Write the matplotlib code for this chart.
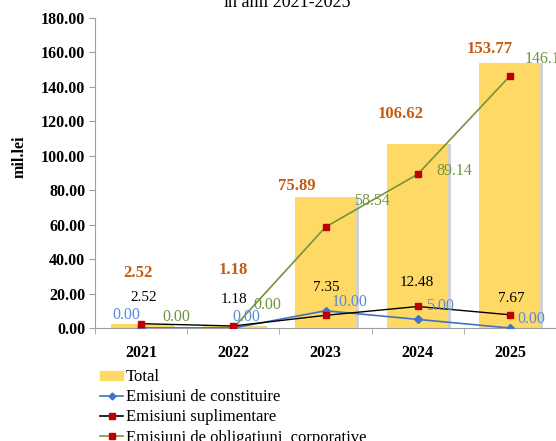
import numpy as np
import matplotlib
matplotlib.use("Agg")
import matplotlib.pyplot as plt
from matplotlib.patches import Patch
from matplotlib.lines import Line2D

plt.rcParams['font.family'] = ['Liberation Serif', 'DejaVu Serif']

years = ['2021', '2022', '2023', '2024', '2025']
total = [2.52, 1.18, 75.89, 106.62, 153.77]
constituire = [0.00, 0.00, 10.00, 5.00, 0.00]
suplimentare = [2.52, 1.18, 7.35, 12.48, 7.67]
corporative = [0.00, 0.00, 58.54, 89.14, 146.10]

# label offsets in pixels (dx, dy)
off_total = [(-3, 51), (0, 56), (-29, 11), (-17, 30), (-20, 14)]
off_supl = [(3, 26), (1, 26), (1, 28), (-1, 24), (1, 16)]
off_const = [(-15, 13), (13, 11), (24, 9), (22, 13), (21, 9)]
off_corp = [(35, 11), (34, 23), (46, 26), (37, 3), (37, 17)]

c_bar = '#FFD966'
c_total = '#C55A11'
c_blue = '#4472C4'
c_blue_txt = '#5B8BD9'
c_green = '#77933C'
c_green_txt = '#6E9440'
c_red = '#C00000'

fig = plt.figure(figsize=(5.56, 4.41), dpi=100)
ax = fig.add_axes([0.171, 0.2562, 0.829, 0.7041])

x = np.arange(len(years))
ax.bar(x + 0.03, total, width=0.66, color='#D2D2D2', zorder=1)
ax.bar(x, total, width=0.66, color=c_bar, zorder=2)

ax.plot(x, corporative, color=c_green, lw=1.2, marker='s', ms=5,
        mfc=c_red, mec=c_red, zorder=3)
ax.plot(x, constituire, color=c_blue, lw=1.2, marker='D', ms=4.5,
        mfc=c_blue, mec=c_blue, zorder=4)
ax.plot(x, suplimentare, color='black', lw=1.0, marker='s', ms=5,
        mfc=c_red, mec=c_red, zorder=5)

def put_labels(vals, offs, color, **kw):
    for i, (v, o) in enumerate(zip(vals, offs)):
        ax.annotate(f'{v:.2f}', xy=(i, v), xytext=o, textcoords='offset pixels',
                    ha='center', va='center', color=color, zorder=6, **kw)

put_labels(total, off_total, c_total, fontsize=12, fontweight='bold')
put_labels(suplimentare, off_supl, 'black', fontsize=11)
put_labels(constituire, off_const, c_blue_txt, fontsize=11.5)
put_labels(corporative, off_corp, c_green_txt, fontsize=11.5)

ax.set_xlim(-0.5, len(years) - 0.5)
ax.set_ylim(0, 180)
ax.set_yticks(np.arange(0, 181, 20))
ax.set_yticklabels([f'{v:.2f}' for v in np.arange(0, 181, 20)],
                   fontsize=11.5, fontweight='bold')
ax.set_xticks(x)
ax.set_xticklabels(years, fontsize=11.5, fontweight='bold')
ax.set_xticks(np.arange(-0.5, len(years), 1), minor=True)
ax.tick_params(axis='x', which='major', length=0, pad=12)
ax.tick_params(axis='x', which='minor', length=4, color='#A0A0A0')
ax.tick_params(axis='y', length=4, color='#A0A0A0', pad=3)

for s in ['top', 'right']:
    ax.spines[s].set_visible(False)
for s in ['left', 'bottom']:
    ax.spines[s].set_color('#A0A0A0')

fig.text(20 / 556, 1 - 157 / 441, 'mil.lei', rotation=90, ha='center',
         va='center', fontsize=11.5, fontweight='bold')
fig.text(287 / 556, 1 - 7 / 441, 'în anii 2021-2025', ha='center',
         va='baseline', fontsize=13)

handles = [
    Patch(color=c_bar),
    Line2D([], [], color=c_blue, marker='D', ms=3.5, mfc=c_blue, lw=1.2),
    Line2D([], [], color='black', marker='s', ms=4, mfc=c_red, mec=c_red, lw=1.2),
    Line2D([], [], color=c_green, marker='s', ms=4, mfc=c_red, mec=c_red, lw=1.2),
]
labels = ['Total', 'Emisiuni de constituire', 'Emisiuni suplimentare',
          'Emisiuni de obligatiuni  corporative']
fig.legend(handles, labels, loc='upper left', bbox_to_anchor=(100 / 556, 1 - 369 / 441),
           frameon=False, fontsize=12, handlelength=1.4, handletextpad=0.15,
           labelspacing=0.25, borderpad=0, borderaxespad=0, handleheight=0.45)

fig.savefig('out.png', dpi=100)
